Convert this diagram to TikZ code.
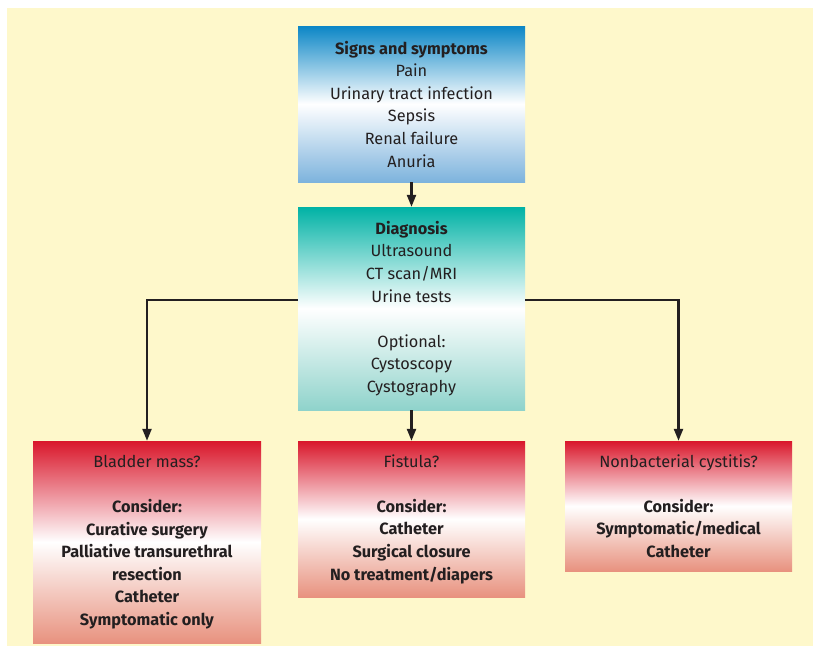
\documentclass[tikz,border=0pt]{standalone}
\usepackage{fontspec}
\setmainfont{Fira Sans}
\usetikzlibrary{arrows.meta}
\definecolor{bg}{HTML}{FEF8CB}
\definecolor{ink}{HTML}{231F20}
\definecolor{bluetop}{HTML}{0B86C6}
\definecolor{bluebot}{HTML}{7DB3DD}
\definecolor{tealtop}{HTML}{00B2A5}
\definecolor{tealbot}{HTML}{8FD3CB}
\definecolor{redtop}{HTML}{D9172B}
\definecolor{redbot}{HTML}{E8927F}
\tikzset{
  box/.style={rectangle, inner sep=0pt, align=center, text=ink,
    font=\fontsize{16.3}{22.6}\selectfont},
  bluebox/.style={box, top color=bluetop, bottom color=bluebot, middle color=white},
  tealbox/.style={box, top color=tealtop, bottom color=tealbot, middle color=white},
  redbox/.style={box, top color=redtop, bottom color=redbot, middle color=white},
  arr/.style={draw=ink, line width=2.3pt, -{Triangle[length=12pt,width=9pt]}}
}
\begin{document}
\begin{tikzpicture}[x=1pt,y=-1pt]
\useasboundingbox (0,0) rectangle (813,649);
\fill[bg] (7,8) rectangle (813,646);
\node[bluebox, minimum width=227pt, minimum height=156pt] (signs) at (411.5,104)
  {\textbf{Signs and symptoms}\\Pain\\Urinary tract infection\\Sepsis\\Renal failure\\Anuria};
\node[tealbox, minimum width=227pt, minimum height=203pt] (diag) at (411.5,308.5)
  {\textbf{Diagnosis}\\Ultrasound\\CT scan/MRI\\Urine tests\\[22.6pt]Optional:\\Cystoscopy\\Cystography};
\node[redbox, minimum width=228pt, minimum height=202pt] (bladder) at (147,542)
  {Bladder mass?\\[22.6pt]\textbf{Consider:}\\\textbf{Curative surgery}\\\textbf{Palliative transurethral}\\\textbf{resection}\\\textbf{Catheter}\\\textbf{Symptomatic only}};
\node[redbox, minimum width=227pt, minimum height=156pt] (fistula) at (411.5,519)
  {Fistula?\\[22.6pt]\textbf{Consider:}\\\textbf{Catheter}\\\textbf{Surgical closure}\\\textbf{No treatment/diapers}};
\node[redbox, minimum width=227pt, minimum height=130pt] (nonbact) at (678.5,506)
  {Nonbacterial cystitis?\\[22.6pt]\textbf{Consider:}\\\textbf{Symptomatic/medical}\\\textbf{Catheter}};
\draw[arr] (signs.south) -- (diag.north);
\draw[arr] (diag.south) -- (fistula.north);
\draw[arr] ([yshift=8.5pt]diag.west) -| (bladder.north);
\draw[arr] ([yshift=8.5pt]diag.east) -| (nonbact.north);
\end{tikzpicture}
\end{document}
